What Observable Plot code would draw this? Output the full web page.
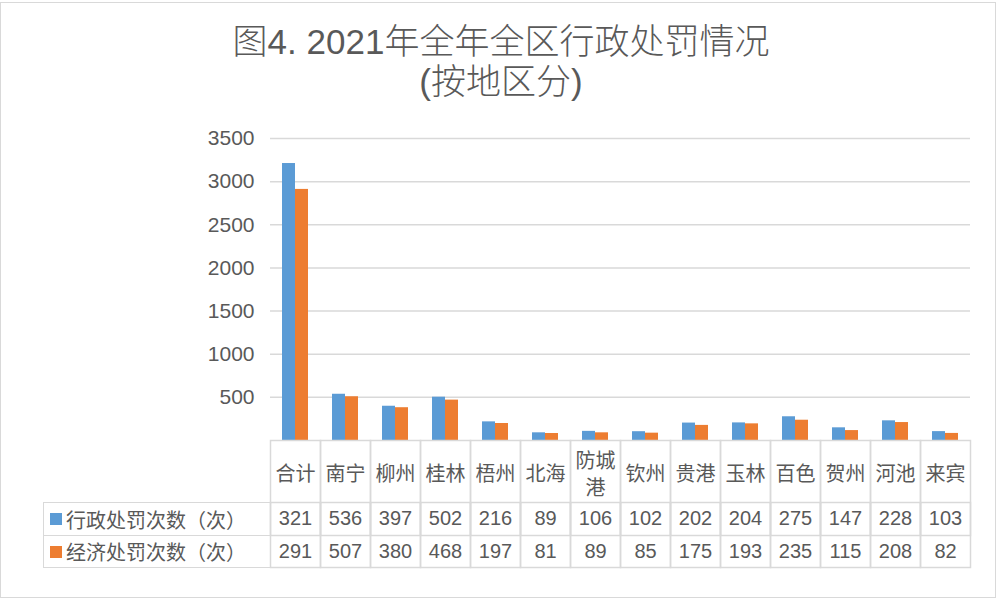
<!DOCTYPE html>
<html>
<head>
<meta charset="utf-8">
<script src="https://cdn.jsdelivr.net/npm/d3@7"></script>
<script src="https://cdn.jsdelivr.net/npm/@observablehq/plot@0.6"></script>
<style>
  html, body { margin: 0; padding: 0; background: #fff; }
  #wrap { position: relative; width: 1004px; height: 610px; overflow: hidden;
    font-family: "Liberation Sans", "Noto Sans CJK SC", sans-serif; color: #595959; }
  #frame { position: absolute; left: 0; top: 2px; width: 994px; height: 594px; border: 1.5px solid #d9d9d9; }
  .title { position: absolute; left: 0; width: 1002px; text-align: center; font-size: 35px; line-height: 40px; font-weight: 300; }
  #chart { position: absolute; left: 0; top: 0; }
  #legend { position: absolute; }
  .lrow { position: absolute; box-sizing: border-box; border: 1.5px solid #d9d9d9; border-right: none;
    font-size: 20px; display: flex; align-items: center; white-space: nowrap; }
  .sw { width: 12px; height: 12px; margin-left: 6px; margin-right: 4px; }
</style>
</head>
<body>
<div id="wrap">
  <div id="frame"></div>
  <div class="title" style="top:22px">图4. 2021年全年全区行政处罚情况</div>
  <div class="title" style="top:62px">(按地区分)</div>
  <div id="chart"></div>
  <div id="legend"></div>
</div>
<script>
const categories = ["合计","南宁","柳州","桂林","梧州","北海","防城港","钦州","贵港","玉林","百色","贺州","河池","来宾"];
const series = ["行政处罚次数（次）", "经济处罚次数（次）"];
const colors = ["#5B9BD5", "#ED7D31"];
// bar heights
const adminValues = [3210, 536, 397, 502, 216, 89, 106, 102, 202, 204, 275, 147, 228, 103];
const econValues  = [2910, 507, 380, 468, 197, 81, 89, 85, 175, 193, 235, 115, 208, 82];
// table text as printed in the data table
const adminTable = ["321","536","397","502","216","89","106","102","202","204","275","147","228","103"];
const econTable  = ["291","507","380","468","197","81","89","85","175","193","235","115","208","82"];
const yTicks = [500, 1000, 1500, 2000, 2500, 3000, 3500];

const bars = [];
categories.forEach((c, i) => {
  bars.push({cat: c, series: series[0], value: adminValues[i]});
  bars.push({cat: c, series: series[1], value: econValues[i]});
});
const row1 = categories.map((c, i) => ({cat: c, label: adminTable[i]}));
const row2 = categories.map((c, i) => ({cat: c, label: econTable[i]}));

const W = 1004, H = 610, mT = 138, mB = 170, mL = 270, mR = 34;
const plotH = H - mT - mB; // 302
const grid = "#d9d9d9";

const chart = Plot.plot({
  width: W, height: H,
  marginLeft: mL, marginRight: mR, marginTop: mT, marginBottom: mB,
  style: {fontFamily: '"Liberation Sans", "Noto Sans CJK SC", sans-serif', color: "#595959", background: "transparent"},
  fx: {domain: categories, padding: 0, axis: null, label: null},
  x: {domain: series, paddingInner: 0, paddingOuter: 0.786, axis: null, label: null},
  y: {domain: [0, 3500], axis: null, label: null},
  color: {domain: series, range: colors},
  marks: [
    Plot.gridY(yTicks, {stroke: grid, strokeOpacity: 1, strokeWidth: 1.5}),
    Plot.axisY(yTicks, {tickSize: 0, tickPadding: 16, fontSize: 21, fill: "#595959", label: null, tickFormat: d => String(d)}),
    Plot.barY(bars, {fx: "cat", x: "series", y: "value", fill: "series"}),
    Plot.frame({stroke: grid, strokeWidth: 1.5, insetTop: plotH, insetBottom: -127}),
    Plot.frame({stroke: grid, strokeWidth: 1.5, insetTop: plotH + 62, insetBottom: -95}),
    Plot.text(categories, {fx: d => d, text: d => d === "防城港" ? "防城\n港" : d,
      frameAnchor: "bottom", dy: 32, lineAnchor: "middle", lineHeight: 1.35, fontSize: 20, fill: "#595959"}),
    Plot.text(row1, {fx: "cat", text: "label", frameAnchor: "bottom", dy: 78.5, lineAnchor: "middle", fontSize: 20, fill: "#595959"}),
    Plot.text(row2, {fx: "cat", text: "label", frameAnchor: "bottom", dy: 111, lineAnchor: "middle", fontSize: 20, fill: "#595959"})
  ]
});
document.getElementById("chart").appendChild(chart);

// legend column of the data table
const legend = document.getElementById("legend");
const rowTops = [502, 535];
const rowH = [34, 33];
series.forEach((s, i) => {
  const r = document.createElement("div");
  r.className = "lrow";
  r.style.left = "43px";
  r.style.top = rowTops[i] + "px";
  r.style.width = (mL - 43) + "px";
  r.style.height = rowH[i] + "px";
  const sw = document.createElement("span");
  sw.className = "sw";
  sw.style.background = colors[i];
  r.appendChild(sw);
  const t = document.createElement("span");
  t.textContent = s;
  r.appendChild(t);
  legend.appendChild(r);
});
</script>
</body>
</html>
